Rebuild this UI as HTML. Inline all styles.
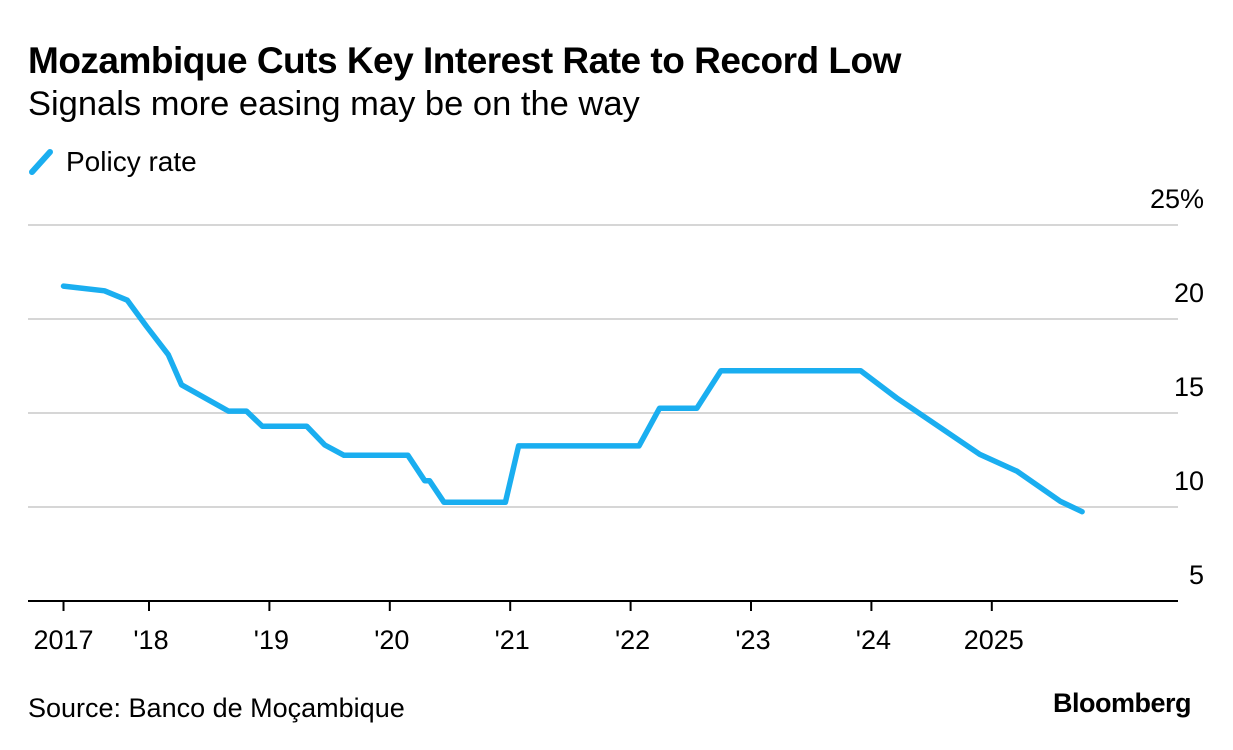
<!DOCTYPE html>
<html><head><meta charset="utf-8">
<style>
body{margin:0;background:#fff;font-family:"Liberation Sans",sans-serif;}
#wrap{position:relative;width:1233px;height:750px;overflow:hidden;}
.t{position:absolute;white-space:nowrap;color:#000;}
</style></head>
<body>
<div id="wrap">
<div class="t" style="left:28px;top:40px;font-size:37px;font-weight:bold;letter-spacing:-0.5px;">Mozambique Cuts Key Interest Rate to Record Low</div>
<div class="t" style="left:28px;top:85px;font-size:34.5px;">Signals more easing may be on the way</div>
<div style="position:absolute;left:28px;top:146px;">
<svg width="30" height="30" style="position:absolute;left:0;top:0"><line x1="4" y1="26" x2="22" y2="6" stroke="#1aaef0" stroke-width="6" stroke-linecap="round"/></svg>
<div class="t" style="left:38px;top:0px;font-size:28px;">Policy rate</div>
</div>
<svg id="chart" width="1233" height="750" style="position:absolute;left:0;top:0"></svg>
<div class="t" style="left:28px;top:693px;font-size:27px;">Source: Banco de Moçambique</div>
<div class="t" style="left:1053px;top:688px;font-size:27px;font-weight:bold;letter-spacing:-0.5px;">Bloomberg</div>
</div>
<script>
const dates=[2017.29,2017.63,2017.82,2017.98,2018.16,2018.27,2018.66,2018.81,2018.94,2019.31,2019.46,2019.62,2020.15,2020.29,2020.33,2020.45,2020.96,2021.07,2022.07,2022.24,2022.55,2022.75,2023.91,2024.21,2024.9,2025.21,2025.57,2025.75];
const rates=[21.75,21.5,21.0,19.6,18.1,16.5,15.1,15.1,14.3,14.3,13.3,12.75,12.75,11.4,11.4,10.25,10.25,13.25,13.25,15.25,15.25,17.25,17.25,15.8,12.8,11.9,10.3,9.75];
const yTicks=[5,10,15,20,25];
const yTickLabels=["5","10","15","20","25%"];
const xTicks=[2017.29,2018,2019,2020,2021,2022,2023,2024,2025];
const xTickLabels=["2017","'18","'19","'20","'21","'22","'23","'24","2025"];
const NS="http://www.w3.org/2000/svg";
const svg=document.getElementById('chart');
const X=t=>149+(t-2018)*120.4;
const Y=v=>601-(v-5)*18.8;
function mk(tag,attrs){const e=document.createElementNS(NS,tag);for(const k in attrs)e.setAttribute(k,attrs[k]);svg.appendChild(e);return e;}
yTicks.forEach((v,i)=>{
  if(v>5){const g=mk('line',{x1:28,x2:1178,y1:Y(v),y2:Y(v),stroke:'#d6d6d6','stroke-width':2});
  
  }
  const tx=mk('text',{x:1204,y:Y(v)-17,'text-anchor':'end','font-size':27,'font-family':'Liberation Sans, sans-serif',fill:'#000'});
  tx.textContent=yTickLabels[i];
  
  
});
const ax=mk('line',{x1:28,x2:1178,y1:Y(5),y2:Y(5),stroke:'#000','stroke-width':2});


xTicks.forEach((t,i)=>{
  const tk=mk('line',{x1:X(t),x2:X(t),y1:Y(5),y2:Y(5)+10,stroke:'#000','stroke-width':2});
  
  
  const tx=mk('text',{x:X(t)+(i==0?0:2),y:649,'text-anchor':'middle','font-size':27,'font-family':'Liberation Sans, sans-serif',fill:'#000'});
  tx.textContent=xTickLabels[i];
  
  
});
const d=dates.map((t,i)=>(i?'L':'M')+X(t).toFixed(1)+','+Y(rates[i]).toFixed(1)).join(' ');
const p=mk('path',{d:d,fill:'none',stroke:'#1aaef0','stroke-width':5.5,'stroke-linejoin':'round','stroke-linecap':'round'});


</script>
</body></html>
